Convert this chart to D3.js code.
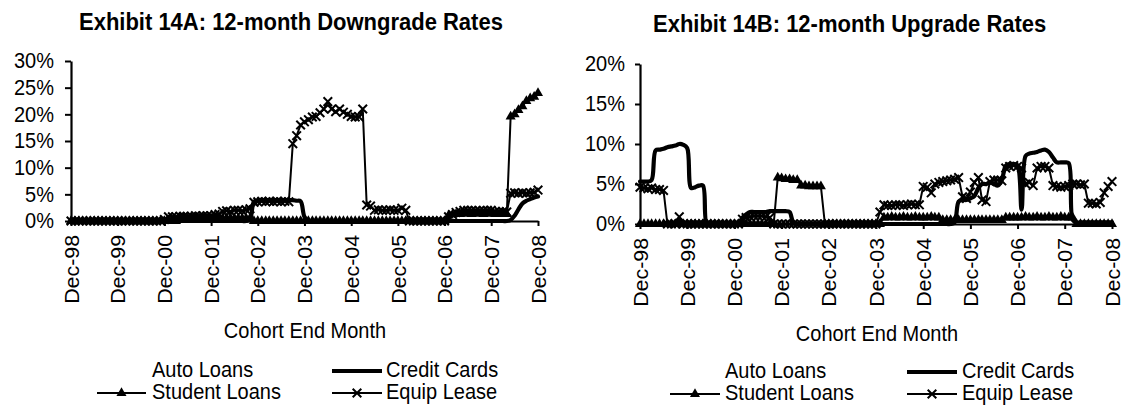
<!DOCTYPE html>
<html><head><meta charset="utf-8">
<script src="https://cdn.jsdelivr.net/npm/d3@7"></script>
<style>
html,body{margin:0;padding:0;background:#fff;}
svg{display:block;}
text{font-family:"Liberation Sans",Arial,Helvetica,sans-serif;fill:#000;}
</style></head><body>
<svg id="chart" width="1123" height="405"></svg>
<script>
// ---------- DATA ----------
const tickLabels = ["Dec-98","Dec-99","Dec-00","Dec-01","Dec-02","Dec-03","Dec-04","Dec-05","Dec-06","Dec-07","Dec-08"];
const seriesNames = ["Auto Loans","Credit Cards","Student Loans","Equip Lease"];
const yTicksA = [0,5,10,15,20,25,30];
const yTicksB = [0,5,10,15,20];
const titleA = "Exhibit 14A: 12-month Downgrade Rates";
const titleB = "Exhibit 14B: 12-month Upgrade Rates";
const xTitle = "Cohort End Month";

// Exhibit 14A (downgrade), monthly Dec-98 .. Dec-08, percent
const dlAuto = [
 0,0,0,0,0,0,0,0,0,0,0,0,
 0,0,0,0,0,0,0,0,0,0,0,0,
 0,0,0,0,0,0.2,0.2,0.2,0.2,0.3,0.3,0.3,
 0.3,0.3,0.3,0.3,0.3,0.3,0.3,0.3,0.3,0.3,0.3,0.3,
 0.3,0.3,0.3,0.3,0.3,0.3,0.3,0.3,0.3,0.3,0.3,0.3,
 0.2,0.2,0.2,0.2,0.2,0.2,0.2,0.2,0.2,0.2,0.2,0.2,
 0,0,0,0,0,0,0,0,0,0,0,0,
 0,0,0,0,0,0,0,0,0,0,0,0,
 0,0.3,0.3,0.3,0.3,0.3,0.3,0.3,0.3,0.3,0.3,0.3,
 0.3,0.3,0.3,0.3,0.3,0.3,0.3,0.3,0.3,0.3,0.3,0.3,
 0.3];
const dlCC = [
 0,0,0,0,0,0,0,0,0,0,0,0,
 0,0,0,0,0,0,0,0,0,0,0,0,
 0,0,0,0,0,0,0,0,0,0,0,0,
 0,0,0,0,0,0,0,0,0,0,0.3,3.6,
 3.8,3.9,3.9,3.9,3.9,3.9,3.9,3.9,3.9,3.9,3.8,3.7,
 0.8,0,0,0,0,0,0,0,0,0,0,0,
 0,0,0,0,0,0,0,0,0,0,0,0,
 0,0,0,0,0,0,0,0,0,0,0,0,
 0,0,0,0,0,0,0,0,0,0,0,0,
 0,0,0,0,0,0.2,1.0,2.2,3.3,3.8,4.1,4.4,
 4.6];
const dlStudent = [
 0,0,0,0,0,0,0,0,0,0,0,0,
 0,0,0,0,0,0,0,0,0,0,0,0,
 0,0,0,0,0.5,0.5,0.5,0.5,0.5,0.5,0.5,0.5,
 0.5,0.5,0.5,0.5,0.5,0.5,0.5,0.5,0.5,0.5,0.5,0,
 0,0,0,0,0,0,0,0,0,0,0,0,
 0,0,0,0,0,0,0,0,0,0,0,0,
 0,0,0,0,0,0,0,0,0,0,0,0,
 0,0,0,0,0,0,0,0,0,0,0,0,
 0,1.0,1.2,1.3,1.3,1.4,1.4,1.3,1.4,1.4,1.3,1.4,
 1.4,1.3,1.3,1.4,1.3,19.6,20.0,20.8,21.5,22.5,23.0,23.3,
 24.0];
const dlEquip = [
 0,0,0,0,0,0,0,0,0,0,0,0,
 0,0,0,0,0,0,0,0,0,0,0,0,
 0.3,0.8,0.8,0.8,0.9,0.9,0.8,0.9,1.0,0.9,1.0,1.0,
 1.0,1.2,1.3,1.8,1.9,1.8,2.0,2.0,1.9,2.1,2.3,3.5,
 3.6,3.7,3.6,3.7,3.6,3.7,3.6,3.7,3.6,14.5,16.0,18.0,
 18.6,19.0,19.5,19.6,20.3,21.0,22.4,21.0,20.5,21.0,20.4,20.0,
 19.6,19.5,19.5,21.0,3.0,2.8,2.0,2.1,2.0,2.0,2.1,2.0,
 2.0,2.4,2.0,0,0,0,0,0,0,0,0,0,
 0,0.8,1.2,1.6,1.8,2.0,2.0,2.0,1.9,1.9,2.0,2.0,
 2.0,1.8,1.8,1.8,1.7,5.2,5.3,5.2,5.3,5.2,5.3,5.4,
 5.8];

// Exhibit 14B (upgrade), monthly Dec-98 .. Dec-08, percent
const ulAuto = [
 0,0,0,0,0,0,0,0,0,0,0,0,
 0,0,0,0,0,0,0,0,0,0,0,0,
 0,0,0,0,0,0,0,0,0,0,0,0,
 0,0,0,0,0,0,0,0,0,0,0,0,
 0,0,0,0,0,0,0,0,0,0,0,0,
 0,0,0,0,0,0,0,0,0,0,0,0,
 0,0,0,0,0,0.4,0.4,0.4,0.4,0.3,0,0,
 0,0,0,0,0.3,0.3,0.3,0.3,0.3,0.3,0,0,
 0,0,0,0,0,0,0,0,0,0.3,0.3,0.3,
 0,0,0,0,0,0,0,0,0,0,0,0,
 0];
const ulCC = [
 5.3,5.3,5.3,5.5,9.2,9.3,9.4,9.6,9.7,9.8,10.0,9.9,
 9.5,4.5,4.6,4.8,4.8,0,0,0,0,0,0,0,
 0,0,0.8,1.2,1.5,1.5,1.5,1.5,1.5,1.6,1.6,1.6,
 1.6,1.6,1.5,0.2,0,0,0,0,0,0,0,0,
 0,0,0,0,0,0,0,0,0,0,0,0,
 0,0,0,0,0,0,0,0,0,0,0,0,
 0,0,0,0,0,0,0,0,0.2,2.8,3.0,3.0,
 3.2,3.5,4.5,5.0,5.0,5.2,5.0,4.8,5.5,7.3,7.5,7.5,
 7.3,1.8,8.5,8.8,8.9,9.0,9.2,9.3,9.0,8.3,7.7,7.7,
 7.7,7.6,0.5,0.2,0.2,0.2,0.2,0.2,0.2,0.2,0.2,0.2,
 0.2];
const ulStudent = [
 0,0,0,0,0,0,0,0,0,0,0,0,
 0,0,0,0,0,0,0,0,0,0,0,0,
 0,0,0,0,0,0,0,0,0,0,0,5.8,
 5.7,5.6,5.6,5.5,5.5,4.8,4.8,4.7,4.7,4.7,4.7,0,
 0,0,0,0,0,0,0,0,0,0,0,0,
 0,0,0.8,0.8,0.9,0.8,0.8,0.9,0.8,0.8,0.9,0.8,
 0.8,0.8,0.9,0.8,0.8,0.5,0.5,0.5,0.5,0.5,0.5,0.5,
 0.5,0.5,0.5,0.5,0.5,0.5,0.5,0.5,0.5,0.8,0.8,0.8,
 0.8,0.8,0.9,0.8,0.8,0.9,0.8,0.8,0.9,0.8,0.8,0.9,
 0.8,0.8,0.8,0,0,0,0,0,0,0,0,0,
 0];
const ulEquip = [
 4.6,4.5,4.4,4.5,4.3,4.3,4.2,0,0,0,0.9,0,
 0,0,0,0,0,0,0,0,0,0,0,0,
 0,0,0.6,0.8,0.9,1.0,1.0,1.0,0.9,0.8,0,0,
 0,0,0,0,0,0,0,0,0,0,0,0,
 0,0,0,0,0,0,0,0,0,0,0,0,
 0,1.5,2.4,2.3,2.3,2.4,2.4,2.3,2.4,2.5,2.4,2.4,
 4.7,4.6,3.9,5.0,5.2,5.3,5.4,5.5,5.6,5.8,3.4,3.2,
 4.0,5.2,5.8,3.0,2.8,5.3,5.5,5.5,5.4,7.0,7.2,7.3,
 7.2,7.0,5.0,5.2,4.8,7.0,7.2,7.2,7.0,4.8,4.7,4.6,
 4.7,4.8,5.0,5.0,4.9,5.0,2.6,2.6,2.5,2.7,3.9,4.7,
 5.3];

// ---------- DRAW ----------
const SY = 1.07; // vertical stretch of the original's lettering
const parseM = d3.timeParse("%b-%y");
const tickDates = tickLabels.map(parseM);
const months = d3.timeMonth.range(tickDates[0], d3.timeMonth.offset(tickDates[tickDates.length-1], 1));
const svg = d3.select("#chart");

function hText(g, x, y, str, size, anchor, weight) {
  return g.append("text")
    .attr("transform", `translate(${x},${y}) scale(1,${SY})`)
    .attr("text-anchor", anchor || "start")
    .style("font-size", size + "px")
    .style("font-weight", weight || "normal")
    .text(str);
}

const styles = {
  "Auto Loans":   {stroke:"#ffffff", width:1.5, marker:null},
  "Credit Cards": {stroke:"#000", width:4.2, marker:null, curve:true},
  "Student Loans":{stroke:"#000", width:2, marker:"tri"},
  "Equip Lease":  {stroke:"#000", width:2, marker:"x"}
};
const triSym = d3.symbol().type(d3.symbolTriangle).size(44);
const xSym = d3.symbol().type(d3.symbolTimes).size(50);

function drawMarker(g, kind, cx, cy) {
  if (kind === "tri") {
    g.append("path").attr("d", triSym()).attr("transform", `translate(${cx},${cy})`).attr("fill", "#000");
  } else if (kind === "x") {
    g.append("path").attr("d", xSym()).attr("transform", `translate(${cx},${cy})`)
      .attr("fill", "none").attr("stroke", "#000").attr("stroke-width", 2);
  }
}

function panel(cfg) {
  const g = svg.append("g");
  const x = d3.scaleTime().domain([tickDates[0], tickDates[tickDates.length-1]]).range([cfg.left, cfg.right]);
  const y = d3.scaleLinear().domain([0, cfg.ymax]).range([cfg.bottom, cfg.top]);

  // title
  hText(g, cfg.titleX, cfg.titleY, cfg.title, 22, "start", "bold");

  // series
  const plot = g.append("g");
  cfg.series.forEach((vals, si) => {
    const name = seriesNames[si];
    const st = styles[name];
    const line = d3.line().x((d,i) => x(months[i])).y(d => y(d));
    if (st.curve) line.curve(d3.curveCatmullRom.alpha(0.5));
    plot.append("path").datum(vals).attr("d", line)
      .attr("fill", "none").attr("stroke", st.stroke).attr("stroke-width", st.width)
      .attr("stroke-linejoin", "round").attr("stroke-linecap", "round");
    if (st.marker) {
      const mg = plot.append("g");
      vals.forEach((v, i) => drawMarker(mg, st.marker, x(months[i]), y(v)));
    }
  });

  // y axis
  const ya = g.append("g").attr("transform", `translate(${cfg.left},0)`)
    .call(d3.axisLeft(y).tickValues(cfg.yTicks).tickSize(cfg.ytick).tickPadding(cfg.ypad).tickSizeOuter(0).tickFormat(d => d + "%"));
  ya.select(".domain").attr("stroke", "#000").attr("stroke-width", 2.2);
  ya.selectAll(".tick line").attr("stroke", "#000").attr("stroke-width", 2);
  ya.selectAll(".tick text").attr("transform", `scale(1,${SY})`).style("font-size", "20px").attr("fill", "#000");

  // x axis
  const xa = g.append("g").attr("transform", `translate(0,${cfg.bottom})`)
    .call(d3.axisBottom(x).tickValues(tickDates).tickSize(5).tickSizeOuter(0).tickFormat((d,i) => tickLabels[i]));
  xa.select(".domain").attr("stroke", "#000").attr("stroke-width", 2.2);
  xa.selectAll(".tick line").attr("stroke", "#000").attr("stroke-width", 2);
  xa.selectAll(".tick text")
    .attr("transform", `rotate(-90) scale(${SY},1)`)
    .attr("x", -13).attr("y", 0).attr("dy", "0.36em")
    .attr("text-anchor", "end").style("font-size", "20px").attr("fill", "#000");

  // x title
  hText(g, cfg.xTitleX, cfg.xTitleY, xTitle, 20, "middle");

  // legend
  const lg = g.append("g");
  seriesNames.forEach((name, si) => {
    const col = si % 2, row = Math.floor(si / 2);
    const st = styles[name];
    const by = cfg.legRows[row];
    const sx0 = cfg.legSym[col][0], sx1 = cfg.legSym[col][1];
    const ly = by - 6;
    lg.append("line").attr("x1", sx0).attr("x2", sx1).attr("y1", ly).attr("y2", ly)
      .attr("stroke", st.stroke).attr("stroke-width", st.width);
    if (st.marker) drawMarker(lg, st.marker, (sx0 + sx1) / 2, ly);
    hText(lg, cfg.legText[col], by, name, 20, "start");
  });
}

panel({
  left: 71, right: 538, bottom: 221, top: 61, ymax: 30, yTicks: yTicksA,
  ytick: 6, ypad: 11,
  title: titleA, titleX: 79, titleY: 30,
  xTitleX: 305, xTitleY: 338,
  legRows: [377, 399], legSym: [[97, 146], [332, 382]], legText: [152, 386],
  series: [dlAuto, dlCC, dlStudent, dlEquip]
});
panel({
  left: 640, right: 1112, bottom: 224, top: 64, ymax: 20, yTicks: yTicksB,
  ytick: 5, ypad: 10,
  title: titleB, titleX: 653, titleY: 32,
  xTitleX: 877, xTitleY: 341,
  legRows: [378, 400], legSym: [[670, 720], [907, 957]], legText: [725, 962],
  series: [ulAuto, ulCC, ulStudent, ulEquip]
});
</script>
</body></html>
